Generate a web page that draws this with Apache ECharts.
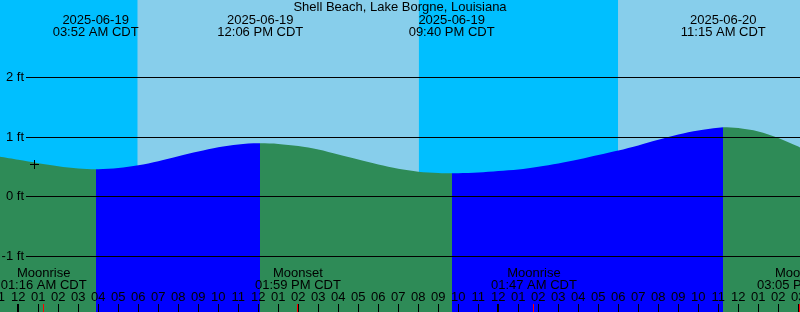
<!DOCTYPE html>
<html><head><meta charset="utf-8">
<script src="https://cdn.jsdelivr.net/npm/echarts@6/dist/echarts.min.js"></script>
<style>html,body{margin:0;padding:0;background:#87CEEB}#c{width:800px;height:312px}</style>
</head><body><div id="c"></div>
<script>
// ---- data (hours counted from 2025-06-19 00:00 CDT) ----
const title = 'Shell Beach, Lake Borgne, Louisiana';
const tideHours = [-1, 0, 1, 2, 3, 3.867, 4, 5, 6, 7, 8, 9, 10, 11, 12, 12.1, 13, 14, 15, 16, 17, 18, 19, 20, 21, 21.667, 22, 23, 24, 25, 26, 27, 28, 29, 30, 31, 32, 33, 34, 35, 35.25, 36, 37, 38, 39, 39.1];
const tideFeet  = [0.674, 0.620, 0.563, 0.513, 0.474, 0.461, 0.461, 0.481, 0.528, 0.598, 0.679, 0.759, 0.830, 0.877, 0.897, 0.897, 0.887, 0.851, 0.793, 0.709, 0.624, 0.541, 0.469, 0.421, 0.401, 0.394, 0.396, 0.407, 0.433, 0.458, 0.503, 0.559, 0.624, 0.700, 0.775, 0.860, 0.955, 1.043, 1.110, 1.156, 1.165, 1.153, 1.096, 0.986, 0.843, 0.825];
const extremeHours = [3.867, 12.1, 21.667, 35.25];
const extremeDates = ['2025-06-19', '2025-06-19', '2025-06-19', '2025-06-20'];
const extremeTimes = ['03:52 AM CDT', '12:06 PM CDT', '09:40 PM CDT', '11:15 AM CDT'];
const sunEventHours = [5.97, 20.03, 29.99];        // sunrise, sunset, sunrise
const moonHours = [1.267, 13.983, 25.783, 39.083];
const moonNames = ['Moonrise', 'Moonset', 'Moonrise', 'Moonset'];
const moonTimes = ['01:16 AM CDT', '01:59 PM CDT', '01:47 AM CDT', '03:05 PM CDT'];
const hourTicks = [-1,0,1,2,3,4,5,6,7,8,9,10,11,12,13,14,15,16,17,18,19,20,21,22,23,24,25,26,27,28,29,30,31,32,33,34,35,36,37,38,39];
const hourLabels = ['11','12','01','02','03','04','05','06','07','08','09','10','11','12','01','02','03','04','05','06','07','08','09','10','11','12','01','02','03','04','05','06','07','08','09','10','11','12','01','02','03'];
const yTicks = [-1, 0, 1, 2];
const yTickLabels = ['-1 ft', '0 ft', '1 ft', '2 ft'];
const markerHour = [0.785];
const markerFeet = [0.547];

// ---- axis ranges ----
const X_MIN = -0.915, X_MAX = 39.085;
const Y_MAX = 3.2984, Y_MIN = -1.9306;

const NIGHT = '#00BFFF', DAY = '#87CEEB', FALL = '#2E8B57', RISE = '#0000FF';
const FAMILY = '"Liberation Sans", Arial, sans-serif';
const FONT = '13px ' + FAMILY;

// background bands from sun events
const bandEdges = [X_MIN].concat(sunEventHours, [X_MAX]);
const bands = [];
for (let i = 0; i < bandEdges.length - 1; i++) bands.push([bandEdges[i], bandEdges[i + 1], i % 2]);

// rising / falling sections split at the extremes
const edges = [-Infinity].concat(extremeHours, [Infinity]);
const pieces = [];
for (let i = 0; i < edges.length - 1; i++) {
  const a = Math.max(edges[i], tideHours[0]), b = Math.min(edges[i + 1], tideHours[tideHours.length - 1]);
  const fa = tideFeet[tideHours.indexOf(a)], fb = tideFeet[tideHours.indexOf(b)];
  const p = { color: fb > fa ? RISE : FALL };
  if (isFinite(edges[i])) p.gte = edges[i];
  if (isFinite(edges[i + 1])) p.lt = edges[i + 1];
  pieces.push(p);
}

const chart = echarts.init(document.getElementById('c'));
const text = (x, y, s, align, color) => ({
  type: 'text', x: x, y: y,
  style: { text: s, font: FONT, fill: color || '#000', textAlign: align || 'center', textVerticalAlign: 'middle' }
});

chart.setOption({
  animation: false,
  title: { text: title, left: 'center', top: 1, padding: 0,
    textStyle: { fontSize: 13, fontWeight: 'normal', color: '#000', fontFamily: FAMILY } },
  grid: { left: 0, right: 0, top: 0, bottom: 0 },
  xAxis: { type: 'value', min: X_MIN, max: X_MAX, show: false },
  yAxis: { type: 'value', min: Y_MIN, max: Y_MAX, show: false },
  visualMap: { show: false, type: 'piecewise', dimension: 0, seriesIndex: 1, pieces: pieces },
  series: [
    { // day / night background
      type: 'custom', z: 1, silent: true,
      data: bands,
      renderItem: (params, api) => {
        const cs = params.coordSys;
        const x0 = api.coord([api.value(0), 0])[0], x1 = api.coord([api.value(1), 0])[0];
        return { type: 'rect', shape: { x: x0, y: cs.y, width: x1 - x0, height: cs.height },
          style: { fill: api.value(2) === 0 ? NIGHT : DAY } };
      }
    },
    { // tide curve
      type: 'line', z: 2, silent: true, smooth: 0.3, showSymbol: false,
      data: tideHours.map((h, i) => [h, tideFeet[i]]),
      lineStyle: { width: 0 },
      areaStyle: { opacity: 1, origin: 'start' }
    },
    { // horizontal level lines and labels
      type: 'custom', z: 3, silent: true,
      data: yTicks.map((v, i) => [X_MIN, v, i]),
      renderItem: (params, api) => {
        const cs = params.coordSys;
        const y = Math.floor(api.coord([api.value(0), api.value(1)])[1]) + 0.5;
        return { type: 'group', children: [
          { type: 'line', shape: { x1: cs.x + 26, y1: y, x2: cs.x + cs.width, y2: y }, style: { stroke: '#000', lineWidth: 1 } },
          text(cs.x + 24, y, yTickLabels[api.value(2)], 'right')
        ] };
      }
    },
    { // tide extreme labels at top
      type: 'custom', z: 3, silent: true,
      data: extremeHours.map((h, i) => [h, Y_MAX, i]),
      renderItem: (params, api) => {
        const p = api.coord([api.value(0), api.value(1)]);
        const i = api.value(2);
        return { type: 'group', children: [
          text(p[0], p[1] + 20, extremeDates[i]),
          text(p[0], p[1] + 32, extremeTimes[i])
        ] };
      }
    },
    { // moon events
      type: 'custom', z: 3, silent: true,
      data: moonHours.map((h, i) => [h, Y_MIN, i]),
      renderItem: (params, api) => {
        const p = api.coord([api.value(0), api.value(1)]);
        const i = api.value(2);
        return { type: 'group', children: [
          text(p[0], p[1] - 38.5, moonNames[i]),
          text(p[0], p[1] - 26.5, moonTimes[i]),
          { type: 'rect', shape: { x: Math.floor(p[0]), y: p[1] - 8, width: 1, height: 8 }, style: { fill: '#FF0000' } }
        ] };
      }
    },
    { // hour ticks and labels
      type: 'custom', z: 3, silent: true,
      data: hourTicks.map((h, i) => [h, Y_MIN, i]),
      renderItem: (params, api) => {
        const p = api.coord([api.value(0), api.value(1)]);
        const i = api.value(2);
        const bold = hourTicks[i] % 24 === 0;
        return { type: 'group', children: [
          text(p[0], p[1] - 14.5, hourLabels[i]),
          { type: 'rect', shape: { x: Math.floor(p[0]) - (bold ? 1 : 0), y: p[1] - 8, width: bold ? 2 : 1, height: 8 }, style: { fill: '#000' } }
        ] };
      }
    },
    { // current-time marker
      type: 'custom', z: 4, silent: true,
      data: markerHour.map((h, i) => [h, markerFeet[i]]),
      renderItem: (params, api) => {
        const p = api.coord([api.value(0), api.value(1)]);
        const cx = Math.floor(p[0]) + 0.5, cy = Math.floor(p[1]) + 0.5;
        return { type: 'group', children: [
          { type: 'line', shape: { x1: cx - 4.5, y1: cy, x2: cx + 4.5, y2: cy }, style: { stroke: '#000', lineWidth: 1 } },
          { type: 'line', shape: { x1: cx, y1: cy - 4.5, x2: cx, y2: cy + 4.5 }, style: { stroke: '#000', lineWidth: 1 } }
        ] };
      }
    }
  ]
});
</script>
</body></html>
